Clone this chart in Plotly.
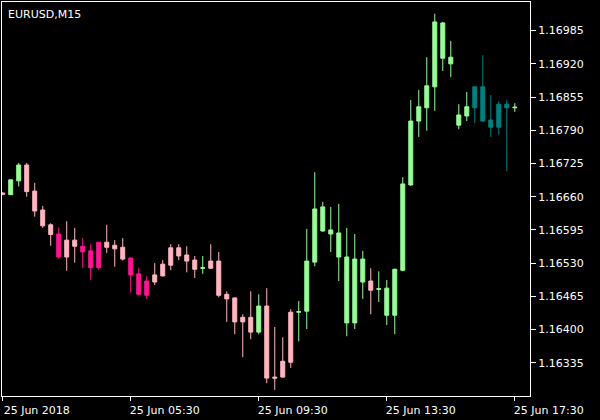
import plotly.graph_objects as go

bars = list(range(65))
opens = [1.16667,1.16664,1.16691,1.16722,1.16671,1.16634,1.16605,1.16587,1.16542,1.16575,
         1.16563,1.16554,1.16521,1.16571,1.16565,1.16561,1.16540,1.16509,1.16467,1.16493,
         1.16505,1.16526,1.16560,1.16546,1.16536,1.16520,1.16520,1.16534,1.16469,1.16462,
         1.16415,1.16424,1.16395,1.16446,1.16307,1.16307,1.16336,1.16434,1.16436,1.16532,
         1.16640,1.16595,1.16589,1.16542,1.16413,1.16538,1.16495,1.16480,1.16481,1.16428,
         1.16516,1.16683,1.16808,1.16834,1.16875,1.17000,1.16933,1.16800,1.16818,1.16875,
         1.16875,1.16810,1.16796,1.16841,1.16834]
highs = [1.16669,1.16693,1.16726,1.16726,1.16687,1.16642,1.16608,1.16600,1.16612,1.16599,
         1.16579,1.16567,1.16571,1.16605,1.16575,1.16579,1.16541,1.16520,1.16505,1.16530,
         1.16536,1.16567,1.16567,1.16563,1.16544,1.16544,1.16567,1.16552,1.16475,1.16462,
         1.16430,1.16475,1.16469,1.16481,1.16405,1.16385,1.16440,1.16456,1.16597,1.16708,
         1.16650,1.16640,1.16646,1.16599,1.16587,1.16554,1.16520,1.16514,1.16497,1.16519,
         1.16698,1.16849,1.16869,1.16933,1.17018,1.17002,1.16965,1.16841,1.16865,1.16876,
         1.16937,1.16859,1.16847,1.16849,1.16843]
lows = [1.16663,1.16664,1.16680,1.16660,1.16621,1.16599,1.16564,1.16539,1.16515,1.16531,
        1.16521,1.16497,1.16517,1.16550,1.16523,1.16535,1.16472,1.16467,1.16460,1.16487,
        1.16504,1.16516,1.16536,1.16512,1.16501,1.16509,1.16519,1.16463,1.16415,1.16391,
        1.16346,1.16381,1.16391,1.16295,1.16282,1.16306,1.16325,1.16377,1.16401,1.16524,
        1.16591,1.16552,1.16495,1.16387,1.16401,1.16460,1.16430,1.16454,1.16409,1.16391,
        1.16514,1.16681,1.16777,1.16789,1.16828,1.16906,1.16894,1.16792,1.16808,1.16804,
        1.16807,1.16777,1.16781,1.16710,1.16826]
closes = [1.16665,1.16693,1.16722,1.16670,1.16632,1.16603,1.16586,1.16542,1.16575,1.16563,
          1.16552,1.16521,1.16571,1.16561,1.16558,1.16538,1.16507,1.16469,1.16495,1.16507,
          1.16528,1.16560,1.16544,1.16534,1.16518,1.16521,1.16534,1.16467,1.16460,1.16415,
          1.16424,1.16395,1.16446,1.16305,1.16305,1.16338,1.16434,1.16435,1.16534,1.16636,
          1.16593,1.16587,1.16542,1.16413,1.16538,1.16493,1.16477,1.16479,1.16428,1.16518,
          1.16685,1.16808,1.16836,1.16877,1.17002,1.16931,1.16920,1.16820,1.16836,1.16834,
          1.16808,1.16796,1.16841,1.16834,1.16835]
# indicator state per bar: L = light pink, D = deep pink, G = green, T = teal
states = list("LGGLLLLDLLDDDLLLDDDLLLLLLGLLLLLLGLLLLGGGGGGGGGLGGGGGGGGGGGGTTTTTG")

tick_bars = [0, 16, 32, 48, 64]
tick_labels = ["25 Jun 2018", "25 Jun 05:30", "25 Jun 09:30", "25 Jun 13:30", "25 Jun 17:30"]
price_ticks = [1.16335, 1.16400, 1.16465, 1.16530, 1.16595, 1.16660,
               1.16725, 1.16790, 1.16855, 1.16920, 1.16985]

colors = {"L": "#FFB6C1", "D": "#FF1493", "G": "#98FB98", "T": "#008080"}

fig = go.Figure()
for key, col in colors.items():
    idx = [i for i, s in enumerate(states) if s == key]
    fig.add_trace(go.Candlestick(
        x=[bars[i] for i in idx],
        open=[opens[i] for i in idx],
        high=[highs[i] for i in idx],
        low=[lows[i] for i in idx],
        close=[closes[i] for i in idx],
        increasing=dict(line=dict(color=col, width=1), fillcolor=col),
        decreasing=dict(line=dict(color=col, width=1), fillcolor=col),
        whiskerwidth=0,
        showlegend=False,
    ))

font = dict(family="DejaVu Sans", size=11, color="white")
fig.update_layout(
    width=600, height=420,
    paper_bgcolor="black", plot_bgcolor="black",
    margin=dict(l=2, r=70, t=2, b=24),
    boxgap=0.5, boxgroupgap=0,
    font=font,
    showlegend=False,
    xaxis=dict(
        range=[-0.09, 65.9], rangeslider=dict(visible=False),
        showgrid=False, zeroline=False,
        showline=True, linecolor="white", linewidth=1, mirror=True,
        ticks="outside", ticklen=4, tickcolor="white", tickwidth=1,
        tickvals=tick_bars, ticktext=tick_labels, ticklabelshift=34,
        tickfont=font,
    ),
    yaxis=dict(
        range=[1.16270, 1.17041], side="right",
        showgrid=False, zeroline=False,
        showline=True, linecolor="white", linewidth=1, mirror=True,
        ticks="outside", ticklen=5, tickcolor="white", tickwidth=1,
        tickvals=price_ticks, ticktext=[f"{p:.5f}" for p in price_ticks],
        tickfont=font,
    ),
    annotations=[dict(
        text="EURUSD,M15", xref="paper", yref="paper", x=0, y=1,
        xanchor="left", yanchor="top", xshift=4, yshift=-4,
        showarrow=False, font=font,
    )],
)

fig.write_html("out.html", config={"displayModeBar": False},
               post_script="document.body.style.margin='0px';document.body.style.background='black';")
